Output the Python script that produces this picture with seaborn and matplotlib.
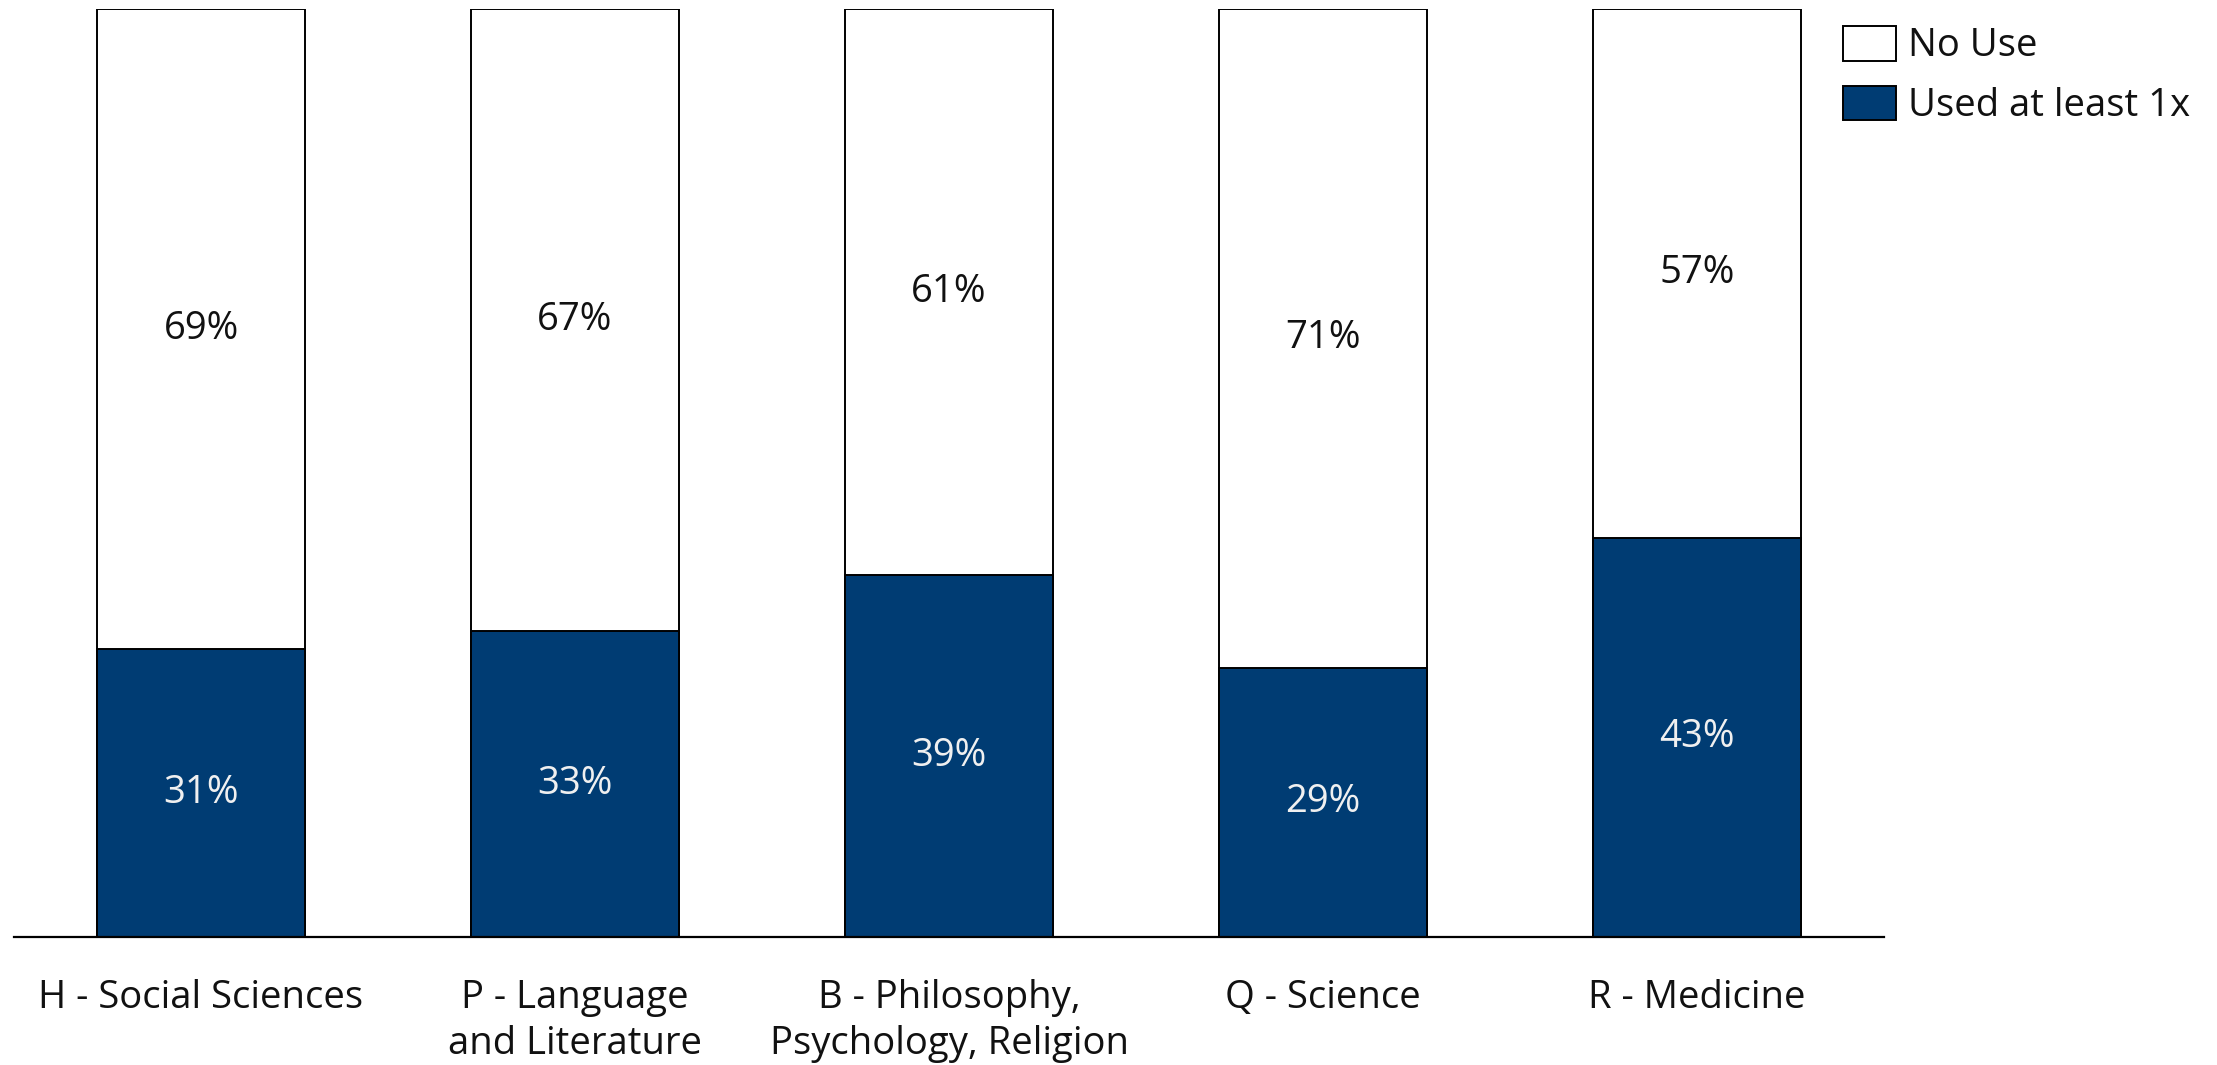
import matplotlib
matplotlib.use("Agg")
import matplotlib.pyplot as plt
import seaborn as sns
import pandas as pd
from matplotlib.patches import Patch

categories = ["H - Social Sciences", "P - Language\nand Literature",
              "B - Philosophy,\nPsychology, Religion", "Q - Science", "R - Medicine"]
no_use = [69, 67, 61, 71, 57]
used = [31, 33, 39, 29, 43]
series_names = ["No Use", "Used at least 1x"]

BLUE = "#003C73"
FONT = ["Open Sans", "DejaVu Sans"]
FS = 27.5

sns.set_theme(style="white")
plt.rcParams['font.family'] = FONT

df = pd.DataFrame({"cat": categories, "no_use": no_use, "used": used})
df["total"] = df["no_use"] + df["used"]

W, H = 2217, 1065
fig = plt.figure(figsize=(W / 100, H / 100), dpi=100)
ax = fig.add_axes([14 / W, 1 - 937 / H, (1884 - 14) / W, (937 - 9) / H])

sns.barplot(data=df, x="cat", y="total", color="white", edgecolor="black",
            linewidth=1.4, width=0.556, saturation=1, ax=ax)
sns.barplot(data=df, x="cat", y="used", color=BLUE, edgecolor="black",
            linewidth=1.4, width=0.556, saturation=1, ax=ax)

for i, (u, n) in enumerate(zip(used, no_use)):
    ax.text(i, u / 2, f"{u}%", ha="center", va="center", color="#f0f0f0",
            fontsize=FS)
    ax.text(i, u + n / 2, f"{n}%", ha="center", va="center", color="#111111",
            fontsize=FS)

ax.set_ylim(0, 100)
ax.set_xlim(-0.5, 4.5)
ax.set_xlabel("")
ax.set_ylabel("")
ax.set_yticks([])
for s in ["top", "right", "left"]:
    ax.spines[s].set_visible(False)
ax.spines["bottom"].set_color("black")
ax.spines["bottom"].set_linewidth(1.6)
ax.tick_params(axis="x", length=0, pad=30, labelsize=FS, labelcolor="#111111")
for lbl in ax.get_xticklabels():
    lbl.set_linespacing(1.3)

handles = [Patch(facecolor="white", edgecolor="black", linewidth=1.4),
           Patch(facecolor=BLUE, edgecolor="black", linewidth=1.4)]
fig.legend(handles, series_names, loc="upper left",
           bbox_to_anchor=(1843 / W, 1 - 26 / H), frameon=False,
           fontsize=FS, handlelength=1.39, handleheight=1.02,
           handletextpad=0.3, labelspacing=0.53, borderpad=0,
           borderaxespad=0, labelcolor="#111111")

fig.savefig("out.png", dpi=100, facecolor="white")
